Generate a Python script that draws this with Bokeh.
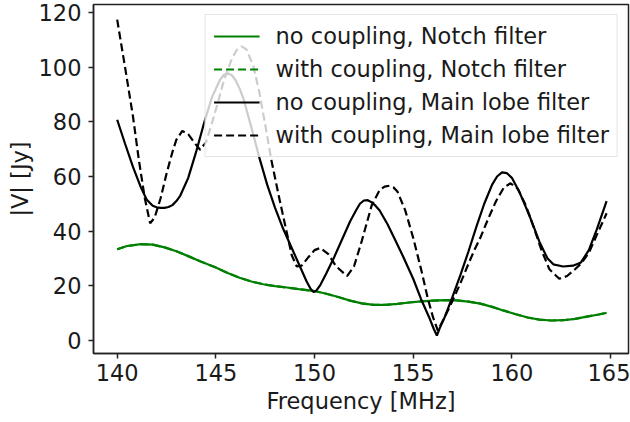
from bokeh.plotting import figure
from bokeh.models import Range1d, FixedTicker, Legend, LegendItem
from bokeh.embed import file_html
from bokeh.resources import INLINE

# ---- data ----
freq_notch = [140.0, 140.5, 141.2, 141.8, 142.4, 143.0, 143.6, 144.2, 145.0, 145.6,
              146.2, 146.8, 147.4, 148.0, 148.6, 149.2, 150.0, 150.6, 151.2, 151.8,
              152.4, 153.0, 153.6, 154.2, 154.8, 155.4, 156.0, 156.6, 157.2, 157.8,
              158.4, 159.0, 159.6, 160.2, 160.8, 161.4, 162.0, 162.6, 163.2, 163.8,
              164.4, 164.8]
v_notch_no = [33.3, 34.5, 35.2, 35.0, 34.0, 32.6, 30.8, 28.9, 26.6, 24.6,
              22.9, 21.5, 20.5, 19.8, 19.3, 18.7, 18.0, 17.0, 15.8, 14.5,
              13.5, 12.9, 12.9, 13.3, 13.8, 14.2, 14.5, 14.7, 14.6, 14.1,
              13.4, 12.2, 10.8, 9.5, 8.3, 7.5, 7.2, 7.3, 7.8, 8.6,
              9.4, 10.0]
v_notch_with = [33.3, 34.5, 35.2, 35.0, 34.0, 32.6, 30.8, 28.9, 26.6, 24.6,
                22.9, 21.5, 20.5, 19.8, 19.3, 18.7, 18.0, 17.0, 15.8, 14.5,
                13.5, 12.9, 12.9, 13.3, 13.8, 14.2, 14.5, 14.7, 14.6, 14.1,
                13.4, 12.2, 10.8, 9.5, 8.3, 7.5, 7.2, 7.3, 7.8, 8.6,
                9.4, 10.0]

freq_main_no = [140.0, 140.4, 140.8, 141.2, 141.5, 141.8, 142.0, 142.2, 142.4, 142.6,
                142.8, 143.0, 143.2, 143.6, 144.0, 144.4, 144.8, 145.2, 145.4, 145.6,
                145.8, 146.0, 146.2, 146.4, 146.8, 147.2, 147.6, 148.0, 148.4, 148.8,
                149.2, 149.6, 149.8, 149.95, 150.1, 150.3, 150.6, 151.0, 151.4, 151.8,
                152.1, 152.3, 152.5, 152.7, 152.9, 153.1, 153.3, 153.7, 154.1, 154.5,
                155.0, 155.4, 155.8, 156.05, 156.2, 156.35, 156.6, 157.0, 157.4, 157.8,
                158.2, 158.6, 159.0, 159.25, 159.5, 159.75, 160.0, 160.4, 160.9, 161.4,
                161.8, 162.1, 162.6, 163.1, 163.5, 163.9, 164.3, 164.8]
v_main_no = [80.8, 72.0, 63.5, 56.0, 51.5, 49.3, 48.7, 48.5, 48.5, 48.8,
             49.5, 51.0, 53.0, 59.5, 69.0, 79.5, 89.0, 95.3, 97.2, 97.8,
             97.2, 95.3, 92.3, 88.5, 78.0, 67.0, 57.0, 48.5, 41.0, 34.5,
             28.0, 21.5, 18.8, 17.6, 18.2, 20.3, 24.5, 30.5, 37.0, 43.5,
             47.5, 50.0, 51.2, 51.3, 50.5, 49.2, 47.5, 42.5, 36.5, 30.5,
             22.5, 15.0, 8.5, 4.0, 1.7, 4.5, 8.5, 16.0, 24.0, 32.5,
             41.5, 50.0, 57.0, 60.0, 61.5, 61.2, 59.5, 54.0, 45.5, 36.0,
             30.0, 27.8, 27.0, 27.3, 28.5, 33.0, 40.5, 51.0]

freq_main_with = [140.0, 140.4, 140.8, 141.1, 141.4, 141.67, 141.9, 142.2, 142.5, 142.8,
                  143.0, 143.3, 143.6, 143.9, 144.2, 144.5, 144.8, 145.1, 145.4, 145.8,
                  146.05, 146.3, 146.55, 146.9, 147.2, 147.5, 147.8, 148.2, 148.5, 148.85,
                  149.1, 149.35, 149.7, 150.0, 150.3, 150.7, 151.1, 151.65, 152.0, 152.4,
                  152.9, 153.3, 153.55, 153.8, 154.0, 154.2, 154.6, 155.0, 155.4, 155.75,
                  156.0, 156.25, 156.6, 157.0, 157.4, 157.8, 158.1, 158.4, 158.8, 159.2,
                  159.6, 159.93, 160.3, 160.7, 161.1, 161.5, 161.9, 162.4, 162.8, 163.2,
                  163.5, 163.9, 164.3, 164.8]
v_main_with = [117.5, 100.0, 82.0, 66.0, 52.0, 42.8, 45.0, 52.0, 61.0, 69.0,
               73.5, 76.7, 75.5, 72.5, 69.8, 72.5, 79.5, 87.0, 95.0, 103.0,
               106.3, 107.7, 106.6, 100.5, 91.0, 79.0, 66.5, 52.5, 42.5, 31.0,
               27.0, 27.3, 30.5, 33.0, 33.8, 31.5, 27.0, 23.5, 27.0, 36.5,
               49.5, 55.0, 56.3, 56.6, 56.0, 54.5, 47.5, 37.5, 26.0, 15.0,
               8.5, 3.5, 8.5, 14.5, 21.0, 28.0, 33.0, 37.5, 44.5, 51.0,
               56.0, 57.5, 55.5, 49.5, 41.5, 33.0, 26.0, 22.5, 23.5, 26.0,
               28.0, 32.0, 38.5, 46.5]

labels = ["no coupling, Notch filter", "with coupling, Notch filter",
          "no coupling, Main lobe filter", "with coupling, Main lobe filter"]
x_ticks = [140, 145, 150, 155, 160, 165]
y_ticks = [0, 20, 40, 60, 80, 100, 120]

FONT = "DejaVu Sans"
TXT = "#1a1a1a"
FS = "22.5px"

p = figure(width=630, height=422, output_backend="svg", toolbar_location=None,
           x_range=Range1d(138.8, 165.91), y_range=Range1d(-4.9, 123.05),
           min_border_left=93, min_border_right=2, min_border_top=4, min_border_bottom=69,
           background_fill_color="white", border_fill_color="white")

p.xgrid.visible = False
p.ygrid.visible = False
p.outline_line_color = "#222222"
p.outline_line_width = 1.5

for ax in (p.xaxis[0], p.yaxis[0]):
    ax.axis_line_color = "#222222"
    ax.axis_line_width = 1.5
    ax.major_tick_line_color = "#222222"
    ax.major_tick_line_width = 1.5
    ax.major_tick_out = 5
    ax.major_tick_in = 0
    ax.minor_tick_line_color = None
    ax.major_label_text_font = FONT
    ax.major_label_text_font_size = FS
    ax.major_label_text_color = TXT
    ax.axis_label_text_font = FONT
    ax.axis_label_text_font_size = FS
    ax.axis_label_text_font_style = "normal"
    ax.axis_label_text_color = TXT

p.xaxis.ticker = FixedTicker(ticks=x_ticks)
p.yaxis.ticker = FixedTicker(ticks=y_ticks)
p.xaxis.axis_label = "Frequency [MHz]"
p.yaxis.axis_label = "|V| [Jy]"
p.xaxis.major_label_standoff = 5
p.yaxis.major_label_standoff = 7
p.xaxis.axis_label_standoff = 4
p.yaxis.axis_label_standoff = 3

LW = 2.2
DASH = "8 4"
r1 = p.line(freq_notch, v_notch_no, line_color="green", line_width=LW)
r2 = p.line(freq_notch, v_notch_with, line_color="green", line_width=LW, line_dash=DASH)
r3 = p.line(freq_main_no, v_main_no, line_color="black", line_width=LW)
r4 = p.line(freq_main_with, v_main_with, line_color="black", line_width=LW, line_dash=DASH)

legend = Legend(items=[LegendItem(label=labels[0], renderers=[r1]),
                       LegendItem(label=labels[1], renderers=[r2]),
                       LegendItem(label=labels[2], renderers=[r3]),
                       LegendItem(label=labels[3], renderers=[r4])],
                location="top_right", margin=10, padding=8, spacing=7,
                glyph_width=46, glyph_height=26, label_height=26, label_standoff=16,
                label_text_font=FONT, label_text_font_size=FS, label_text_color=TXT,
                border_line_color="#cccccc", border_line_width=1,
                background_fill_color="white", background_fill_alpha=0.8)
p.add_layout(legend)

open("out.html", "w").write(file_html(p, INLINE))
